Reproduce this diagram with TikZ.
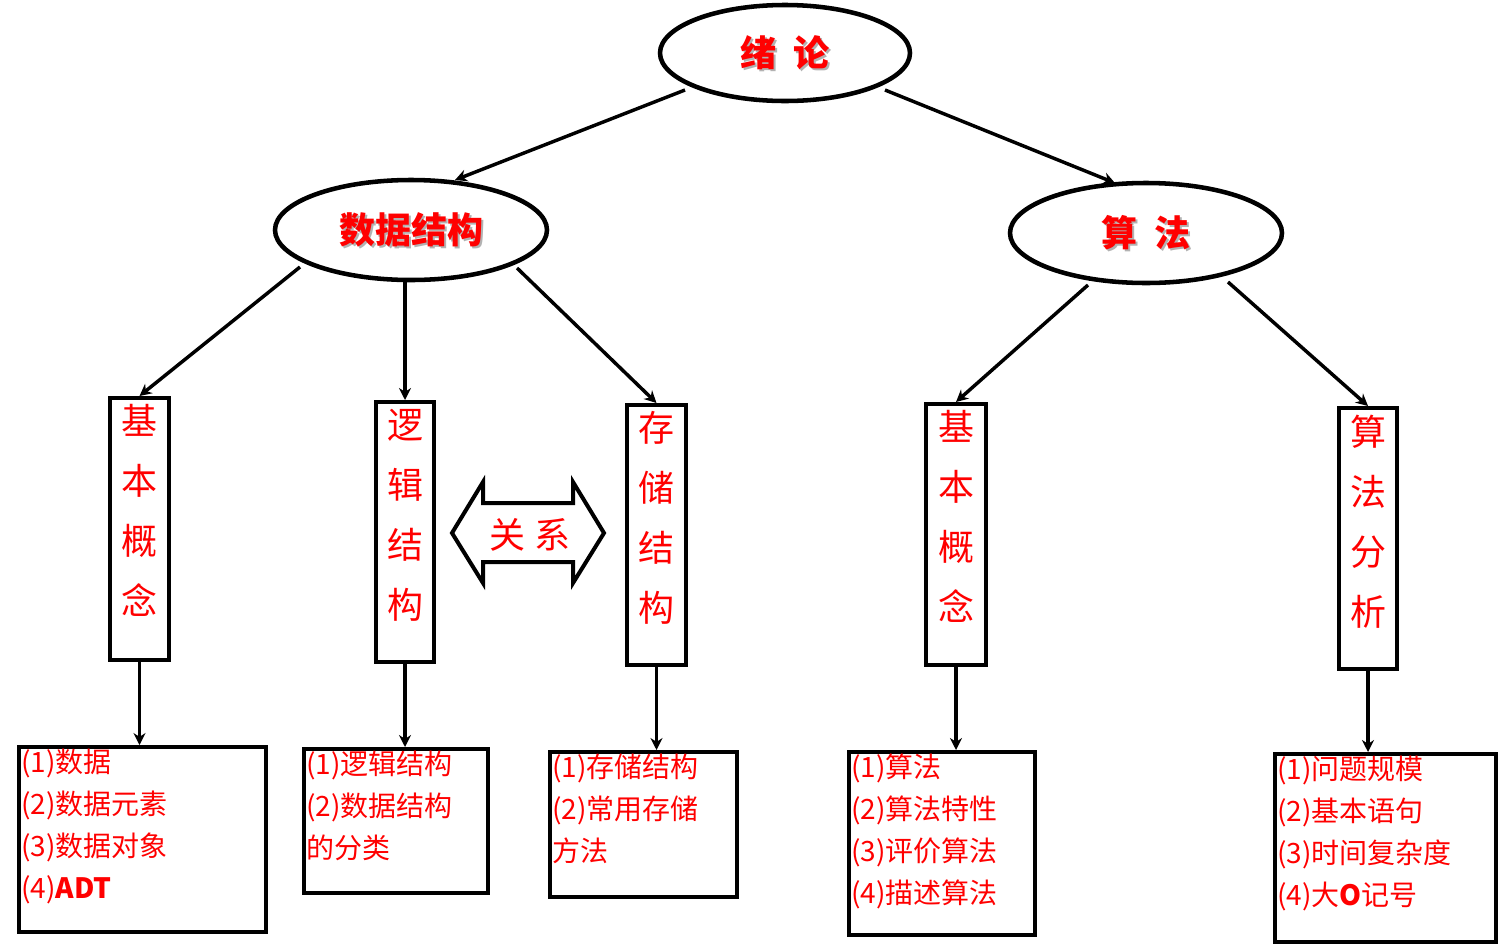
\documentclass[tikz,border=0pt]{standalone}
\usepackage{fontspec}
\setmainfont{Liberation Serif}
\newfontfamily\cjk{Noto Sans CJK SC}
\usetikzlibrary{shapes.geometric,arrows.meta}
\newdimen\px \px=0.75pt
\begin{document}
\begin{tikzpicture}[x=0.75pt,y=-0.75pt,
  arr/.style={line width=2.6pt,-{Stealth[length=9pt,width=9pt]}},
  ell/.style={ellipse,draw,line width=3.4pt,fill=white,inner sep=0pt},
  vbox/.style={draw,line width=3pt,anchor=north west,inner sep=0pt},
  lbox/.style={draw,line width=3pt,anchor=north west,inner sep=0pt},
  vt/.style={text=red,font=\cjk\fontsize{27}{45}\selectfont,align=center,anchor=north},
  lt/.style={text=red,font=\cjk\fontsize{21}{31.5}\selectfont,align=left,anchor=north west,inner sep=0pt},
  tt/.style={font=\cjk\bfseries\fontsize{27}{30}\selectfont}]
\useasboundingbox (0,0) rectangle (1499,943);
% ellipses
\node[ell,minimum width=250\px,minimum height=96\px] (root) at (785,53) {};
\node[ell,minimum width=272\px,minimum height=100\px] (ds) at (411,230) {};
\node[ell,minimum width=272\px,minimum height=100\px] (al) at (1146,233) {};
\foreach \n/\t in {root/绪\ \ 论,ds/数据结构,al/算\ \ 法}{
  \node[tt,text=gray!60] at ([shift={(2,2)}]\n) {\t};
  \node[tt,text=red] at (\n) {\t};}
% vertical boxes
\node[vbox,minimum width=59\px,minimum height=262\px] (b1) at (108,396) {};
\node[vbox,minimum width=58\px,minimum height=260\px] (b2) at (374,400) {};
\node[vbox,minimum width=59\px,minimum height=260\px] (b3) at (625,403) {};
\node[vbox,minimum width=60\px,minimum height=261\px] (b4) at (924,402) {};
\node[vbox,minimum width=58\px,minimum height=261\px] (b5) at (1337,406) {};
\node[vt] at ([yshift=-3pt]b1.north) {基\\本\\概\\念};
\node[vt] at ([yshift=-3pt]b2.north) {逻\\辑\\结\\构};
\node[vt] at ([yshift=-3pt]b3.north) {存\\储\\结\\构};
\node[vt] at ([yshift=-3pt]b4.north) {基\\本\\概\\念};
\node[vt] at ([yshift=-3pt]b5.north) {算\\法\\分\\析};
% list boxes
\node[lbox,minimum width=247\px,minimum height=185\px] (l1) at (17,745) {};
\node[lbox,minimum width=184\px,minimum height=144\px] (l2) at (302,747) {};
\node[lbox,minimum width=187\px,minimum height=145\px] (l3) at (548,750) {};
\node[lbox,minimum width=186\px,minimum height=183\px] (l4) at (847,750) {};
\node[lbox,minimum width=221\px,minimum height=188\px] (l5) at (1273,752) {};
\node[lt] at ([shift={(4,4)}]l1.north west) {(1)数据\\(2)数据元素\\(3)数据对象\\(4)\textbf{ADT}};
\node[lt] at ([shift={(4,4)}]l2.north west) {(1)逻辑结构\\(2)数据结构\\的分类};
\node[lt] at ([shift={(4,4)}]l3.north west) {(1)存储结构\\(2)常用存储\\方法};
\node[lt] at ([shift={(4,4)}]l4.north west) {(1)算法\\(2)算法特性\\(3)评价算法\\(4)描述算法};
\node[lt] at ([shift={(4,4)}]l5.north west) {(1)问题规模\\(2)基本语句\\(3)时间复杂度\\(4)大\textbf{\textit{O}}记号};
% double arrow
\draw[line width=3pt,fill=white,line join=miter] (452,533) -- (483,482) -- (483,503) -- (573,503)
  -- (573,482) -- (604,533) -- (573,583) -- (573,562) -- (483,562) -- (483,583) -- cycle;
\node[text=red,font=\cjk\fontsize{27}{30}\selectfont] (rel) at (530,535) {关\ 系};
% connectors
\coordinate (r1) at (685,90); \coordinate (r2) at (885,90);
\draw[arr] (r1) -- (455,180);
\draw[arr] (r2) -- (1115,183);
\coordinate (d1) at (300,267); \coordinate (d3) at (517,268);
\draw[arr] (d1) -- (b1.north);
\draw[arr] (ds.south -| b2.north) -- (b2.north);
\draw[arr] (d3) -- (b3.north);
\coordinate (a1) at (1088,285); \coordinate (a2) at (1228,282);
\draw[arr] (a1) -- (b4.north);
\draw[arr] (a2) -- (b5.north);
\draw[arr] (b1.south) -- (b1.south |- l1.north);
\draw[arr] (b2.south) -- (b2.south |- l2.north);
\draw[arr] (b3.south) -- (b3.south |- l3.north);
\draw[arr] (b4.south) -- (b4.south |- l4.north);
\draw[arr] (b5.south) -- (b5.south |- l5.north);
\end{tikzpicture}
\end{document}
